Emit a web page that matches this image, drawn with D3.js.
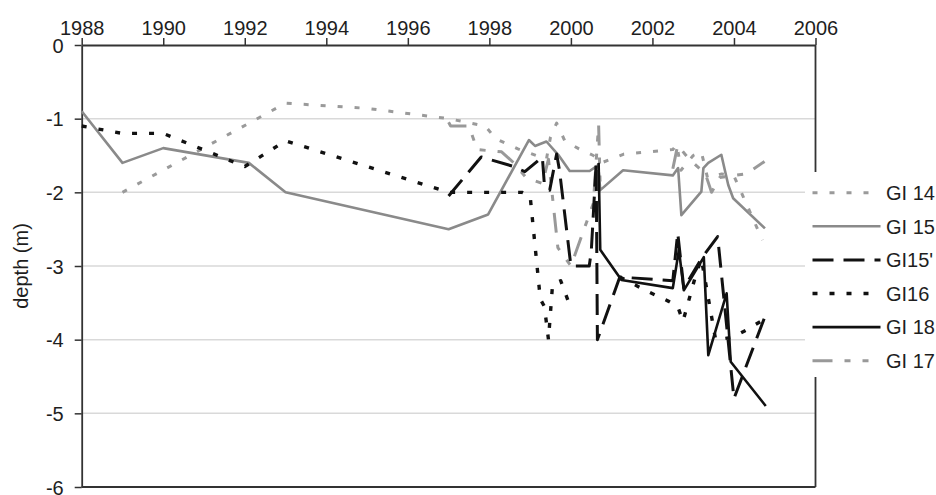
<!DOCTYPE html>
<html>
<head>
<meta charset="utf-8">
<script src="https://cdn.jsdelivr.net/npm/d3@7"></script>
<style>
  body { margin: 0; background: #fff; }
  svg { display: block; }
  text { font-family: "Liberation Sans", Arial, sans-serif; fill: #1e1e1e; }
</style>
</head>
<body>
<svg id="chart" width="936" height="495"></svg>
<script>
// Axis ticks
const xTicks = [1988, 1990, 1992, 1994, 1996, 1998, 2000, 2002, 2004, 2006];
const yTicks = [0, -1, -2, -3, -4, -5, -6];
const yLabel = "depth (m)";

// Water-table depth per borehole: [year, depth in m]; null marks a gap in the record
const gi14 = [
  [1989.0, -2.0], [1993.0, -0.79], [1995.0, -0.86], [1997.0, -1.0], [1997.9, -1.1],
  [1998.15, -1.27], [1998.7, -1.41], [1999.4, -1.55], [1999.5, -1.25], [1999.65, -1.06],
  [1999.85, -1.3], [2000.2, -1.41], [2000.55, -1.5], [2000.75, -1.6], [2001.3, -1.48],
  [2002.5, -1.42], [2002.6, -1.35], [2002.7, -1.7], [2003.0, -1.5], [2003.2, -1.45],
  [2003.35, -1.8], [2003.7, -1.75], [2004.0, -1.78], [2004.3, -2.15], [2004.7, -2.65]
];
const gi15 = [
  [1988.0, -0.9], [1989.0, -1.6], [1990.0, -1.4], [1992.1, -1.6], [1993.0, -2.0],
  [1997.0, -2.5], [1997.97, -2.3], [1998.97, -1.29], [1999.12, -1.37], [1999.4, -1.31],
  [1999.69, -1.49], [1999.97, -1.71], [2000.46, -1.71], [2000.67, -1.63], [2000.72, -1.97],
  [2001.28, -1.7], [2002.5, -1.77], [2002.63, -1.67], [2002.71, -2.31], [2003.2, -1.99],
  [2003.25, -1.67], [2003.37, -1.6], [2003.69, -1.49], [2003.86, -1.9], [2003.98, -2.08],
  [2004.76, -2.49]
];
const gi15b = [
  [1997.0, -2.05], [1997.8, -1.52], [1998.6, -1.65], [1998.87, -1.72], [1999.3, -1.52],
  [1999.35, -1.9], [1999.48, -1.97], [1999.65, -1.48], [1999.72, -1.7], [2000.0, -3.0],
  [2000.45, -3.0], [2000.5, -2.8], [2000.62, -1.6], [2000.65, -4.0], [2001.2, -3.15],
  [2002.5, -3.2], [2002.62, -2.55], [2002.77, -3.3], [2003.2, -2.9], [2003.6, -2.6],
  [2004.0, -4.8], [2004.75, -3.7]
];
const gi16 = [
  [1988.0, -1.1], [1989.0, -1.2], [1990.0, -1.2], [1992.0, -1.65], [1993.0, -1.3],
  [1997.0, -2.0], [1998.8, -2.0], [1999.0, -2.05], [1999.25, -3.45], [1999.35, -3.55],
  [1999.45, -4.0], [1999.55, -3.25], [1999.75, -3.2], [1999.95, -3.5], null,
  [2001.2, -3.15], [2001.9, -3.35], [2002.4, -3.48], [2002.62, -3.55], [2002.75, -3.75],
  [2002.9, -3.45], [2003.05, -3.15], [2003.2, -2.9], [2003.55, -4.0], [2003.95, -3.97],
  [2004.3, -3.87], [2004.75, -3.72]
];
const gi18 = [
  [2000.68, -1.6], [2000.72, -2.78], [2001.24, -3.19], [2002.5, -3.3], [2002.65, -2.78],
  [2002.77, -3.33], [2003.26, -2.88], [2003.37, -4.21], [2003.82, -3.37], [2003.92, -4.3],
  [2004.78, -4.9]
];
const gi17 = [
  [1997.0, -1.05], [1997.05, -1.1], [1997.5, -1.1], [1997.7, -1.42], [1998.3, -1.45],
  [1998.6, -1.6], [1998.9, -1.8], [1999.3, -1.88], [1999.45, -1.55], [1999.68, -2.75],
  [2000.0, -3.0], [2000.55, -2.15], [2000.68, -1.08], [2000.72, -1.95], null,
  [2002.5, -1.68], [2002.62, -1.36], [2002.9, -1.55], [2003.3, -1.75], [2003.45, -2.0],
  [2003.65, -1.8], [2004.0, -1.77], [2004.3, -1.75], [2004.75, -1.58]
];

// Legend order and line styles
const legendNames = ["GI 14", "GI 15", "GI15'", "GI16", "GI 18", "GI 17"];
const styleByName = {
  "GI 14": { data: gi14, color: "#9a9a9a", width: 3,   dash: "5,12" },
  "GI 15": { data: gi15, color: "#8a8a8a", width: 2.6, dash: null },
  "GI15'": { data: gi15b, color: "#111",   width: 3,   dash: "21,10" },
  "GI16":  { data: gi16, color: "#111",    width: 3.4, dash: "5,12" },
  "GI 18": { data: gi18, color: "#111",    width: 2.6, dash: null },
  "GI 17": { data: gi17, color: "#999",    width: 3,   dash: "20,12,6,12,6,12" }
};
const drawOrder = ["GI 15", "GI 14", "GI 17", "GI16", "GI15'", "GI 18"];

const svg = d3.select("#chart");
const plotLeft = 81.7, plotRight = 815.5, plotTop = 45, plotBottom = 487;

const x = d3.scaleLinear().domain([1988, 2006]).range([plotLeft, plotRight]);
const y = d3.scaleLinear().domain([0, -6]).range([plotTop, plotBottom]);

// Plain hyphen-minus for negative depths
const plainNumber = d => String(d);

// Horizontal gridlines
svg.append("g")
  .selectAll("line")
  .data(yTicks.filter(v => v !== 0 && v !== -6))
  .join("line")
  .attr("x1", plotLeft).attr("x2", plotRight)
  .attr("y1", d => y(d)).attr("y2", d => y(d))
  .attr("stroke", "#d9d9d9").attr("stroke-width", 1.5);

// Top axis with year ticks
const xAxis = svg.append("g")
  .attr("transform", `translate(0,${plotTop})`)
  .call(d3.axisTop(x).tickValues(xTicks).tickFormat(plainNumber).tickSize(7).tickSizeOuter(0));
xAxis.select(".domain").attr("stroke", "#333").attr("stroke-width", 1.8);
xAxis.selectAll(".tick line").attr("stroke", "#333").attr("stroke-width", 1.5);
xAxis.selectAll(".tick text")
  .attr("font-size", 20).attr("fill", "#1e1e1e")
  .attr("font-family", "Liberation Sans, Arial, sans-serif")
  .attr("y", -10).attr("dy", 0);

// Left axis with depth ticks
const yAxis = svg.append("g")
  .attr("transform", `translate(${plotLeft},0)`)
  .call(d3.axisLeft(y).tickValues(yTicks).tickFormat(plainNumber).tickSize(7).tickSizeOuter(0));
yAxis.select(".domain").attr("stroke", "#333").attr("stroke-width", 1.8);
yAxis.selectAll(".tick line").attr("stroke", "#333").attr("stroke-width", 1.5);
yAxis.selectAll(".tick text")
  .attr("font-size", 20).attr("fill", "#1e1e1e")
  .attr("font-family", "Liberation Sans, Arial, sans-serif")
  .attr("x", -18).attr("dy", "0.36em");

// Right and bottom frame lines
svg.append("line").attr("x1", plotRight).attr("x2", plotRight).attr("y1", plotTop).attr("y2", plotBottom)
  .attr("stroke", "#333").attr("stroke-width", 1.8);
svg.append("line").attr("x1", plotLeft).attr("x2", plotRight).attr("y1", plotBottom).attr("y2", plotBottom)
  .attr("stroke", "#333").attr("stroke-width", 1.8);

// Y axis title
svg.append("text")
  .attr("transform", `translate(28,${(plotTop + plotBottom) / 2}) rotate(-90)`)
  .attr("text-anchor", "middle")
  .attr("font-size", 20)
  .text(yLabel);

// Series
const line = d3.line()
  .defined(d => d !== null)
  .x(d => x(d[0]))
  .y(d => y(d[1]));

const plot = svg.append("g");
drawOrder.forEach(name => {
  const s = styleByName[name];
  plot.append("path")
    .datum(s.data)
    .attr("fill", "none")
    .attr("stroke", s.color)
    .attr("stroke-width", s.width)
    .attr("stroke-dasharray", s.dash)
    .attr("stroke-linejoin", "round")
    .attr("d", line);
});

// Legend box on the right edge
const legend = svg.append("g");
legend.append("rect")
  .attr("x", 805).attr("y", 172).attr("width", 131).attr("height", 205)
  .attr("fill", "#fff");
const legendY = d3.scalePoint().domain(legendNames).range([192.7, 360.7]);
legendNames.forEach(name => {
  const s = styleByName[name];
  const ly = legendY(name);
  legend.append("line")
    .attr("x1", 812.5).attr("x2", 880.5)
    .attr("y1", ly).attr("y2", ly)
    .attr("stroke", s.color)
    .attr("stroke-width", s.width)
    .attr("stroke-dasharray", s.dash);
  legend.append("text")
    .attr("x", 886).attr("y", ly).attr("dy", "0.36em")
    .attr("font-size", 20)
    .text(name);
});
</script>
</body>
</html>
